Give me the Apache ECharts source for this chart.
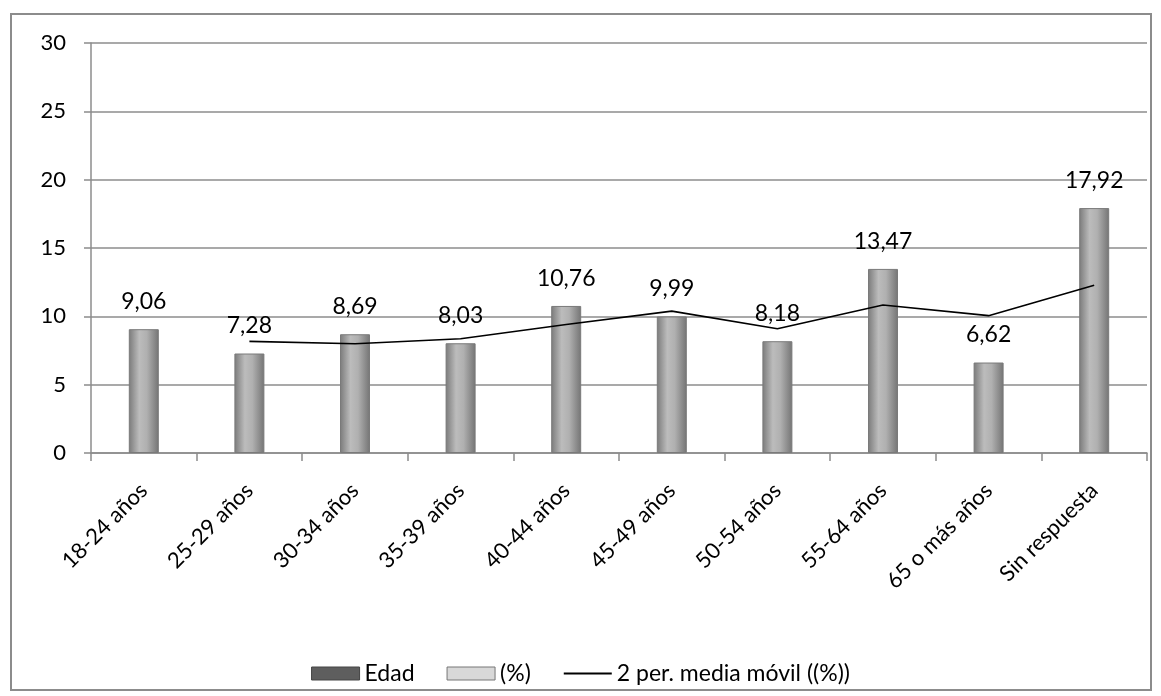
<!DOCTYPE html>
<html>
<head>
<meta charset="utf-8">
<script src="https://cdn.jsdelivr.net/npm/echarts@6/dist/echarts.min.js"></script>
<style>
  html, body { margin: 0; padding: 0; background: #fff; }
  #frame {
    position: absolute;
    left: 10px; top: 13px;
    width: 1138px; height: 674px;
    border: 2px solid #8c8c8c;
  }
  #chart { position: absolute; left: 0; top: 0; width: 1161px; height: 696px; }
</style>
</head>
<body>
<div id="frame"></div>
<div id="chart"></div>
<script>
const categories = ['18-24 años', '25-29 años', '30-34 años', '35-39 años', '40-44 años',
  '45-49 años', '50-54 años', '55-64 años', '65 o más años', 'Sin respuesta']
const percent = [9.06, 7.28, 8.69, 8.03, 10.76, 9.99, 8.18, 13.47, 6.62, 17.92]
// 2-period moving average
const movingAvg = [null, 8.17, 7.99, 8.36, 9.40, 10.38, 9.09, 10.83, 10.05, 12.27]
const yTicks = { min: 0, max: 30, interval: 5 }

const font = 'Lato, "Noto Sans", sans-serif'

const barFill = new echarts.graphic.LinearGradient(0, 0, 1, 0, [
  { offset: 0, color: '#7a7a7a' },
  { offset: 0.35, color: '#bcbcbc' },
  { offset: 0.6, color: '#b0b0b0' },
  { offset: 1, color: '#747474' }
])

const chart = echarts.init(document.getElementById('chart'))

chart.setOption({
  animation: false,
  textStyle: { fontFamily: font },
  grid: { left: 91, right: 14, top: 43, bottom: 243 },
  legend: {
    top: 657,
    left: 'center',
    itemGap: 32,
    itemWidth: 48,
    itemHeight: 13,
    textStyle: { fontSize: 23, color: '#000', fontFamily: font },
    data: [
      { name: 'Edad', icon: 'rect', itemStyle: { color: '#5e5e5e', borderColor: '#444', borderWidth: 1 } },
      { name: '(%)', icon: 'rect', itemStyle: { color: '#d8d8d8', borderColor: '#777', borderWidth: 1 } },
      { name: '2 per. media móvil ((%))', itemStyle: { opacity: 0 } }
    ]
  },
  xAxis: {
    type: 'category',
    data: categories,
    axisLine: { lineStyle: { color: '#8c8c8c', width: 1.5 } },
    axisTick: { show: true, length: 8, lineStyle: { color: '#8c8c8c', width: 1.5 } },
    axisLabel: {
      interval: 0,
      rotate: 45,
      fontSize: 22,
      color: '#000',
      margin: 34,
      fontFamily: font
    }
  },
  yAxis: {
    type: 'value',
    min: yTicks.min,
    max: yTicks.max,
    interval: yTicks.interval,
    axisLine: { show: true, lineStyle: { color: '#8c8c8c', width: 1.5 } },
    axisTick: { show: true, length: 7, lineStyle: { color: '#8c8c8c', width: 1.5 } },
    splitLine: { lineStyle: { color: '#8c8c8c', width: 1.5 } },
    axisLabel: { fontSize: 22, color: '#000', margin: 25, fontFamily: font }
  },
  series: [
    {
      name: 'Edad',
      type: 'bar',
      data: [],
      itemStyle: { color: '#5e5e5e' }
    },
    {
      name: '(%)',
      type: 'bar',
      data: percent,
      barWidth: 30,
      barGap: '-100%',
      itemStyle: { color: barFill, borderColor: '#7a7a7a', borderWidth: 1 },
      label: {
        show: true,
        position: 'top',
        distance: 16,
        fontSize: 23,
        color: '#000',
        fontFamily: font,
        formatter: p => p.value.toFixed(2).replace('.', ',')
      }
    },
    {
      name: '2 per. media móvil ((%))',
      type: 'line',
      data: movingAvg,
      symbol: 'none',
      itemStyle: { color: '#000' },
      lineStyle: { color: '#000', width: 1.6 },
      z: 5
    }
  ]
})
</script>
</body>
</html>
